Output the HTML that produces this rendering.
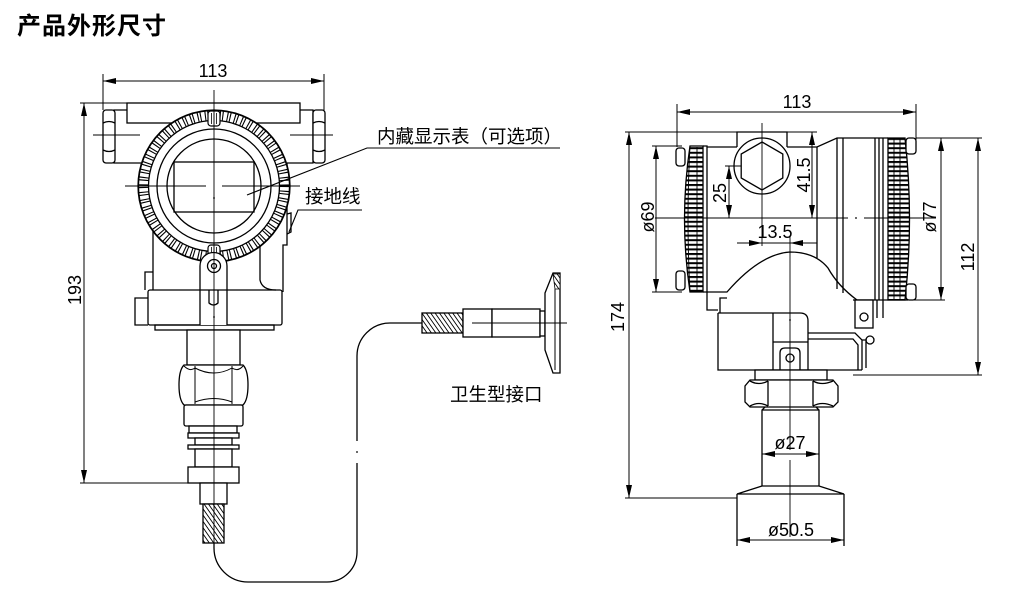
<!DOCTYPE html>
<html><head><meta charset="utf-8">
<style>
html,body{margin:0;padding:0;background:#fff;}
svg{display:block;}
</style></head><body>
<svg width="1017" height="593" viewBox="0 0 1017 593" xmlns="http://www.w3.org/2000/svg">
<defs>
<pattern id="hatch" patternUnits="userSpaceOnUse" width="3.6" height="3.6" patternTransform="rotate(-35)">
<rect width="3.6" height="3.6" fill="#fff"/><line x1="0" y1="0" x2="0" y2="3.6" stroke="#000" stroke-width="1.8"/>
</pattern>
<pattern id="knurl" patternUnits="userSpaceOnUse" width="30" height="4.6">
<rect width="30" height="4.6" fill="#fff"/><rect x="0" y="0" width="30" height="2" fill="#000"/>
</pattern>
</defs>
<rect width="1017" height="593" fill="#fff"/>

<!-- Title -->
<text x="17" y="34" font-family="'Liberation Sans','Noto Sans CJK SC',sans-serif" font-size="24" font-weight="bold" letter-spacing="1">产品外形尺寸</text>

<!-- ================= LEFT VIEW ================= -->
<g fill="none" stroke="#000" stroke-width="1.3">
  <rect x="127" y="103" width="173" height="20"/>
  <path d="M127,110 H114 V163 H152 M300,110 H313 V163 H287"/>
  <rect x="103" y="110" width="12" height="53" rx="3" fill="#fff"/>
  <path d="M103,123 Q109,120 115,123 M103,150 Q109,153 115,150"/>
  <rect x="313" y="110" width="12" height="53" rx="3" fill="#fff"/>
  <path d="M313,123 Q319,120 325,123 M313,150 Q319,153 325,150"/>
  <path d="M153,163 V290 M287,163 V245 H283 V292"/>
  <path d="M260,240 V280 Q262,290 276,290"/>
  <path d="M287,214 L291,213 V232 L287,234"/>
  <path d="M153,272 H145 V290"/>
  <path d="M148,298 H135 V325 H148"/>
  <rect x="148" y="290" width="134" height="35" rx="2"/>
  <rect x="155" y="325" width="119" height="5"/>
</g>

<g fill="none" stroke="#000">
  <circle cx="214" cy="186" r="76" fill="#fff" stroke-width="1.3"/>
  <circle cx="214" cy="186" r="70.5" stroke-width="10" stroke-dasharray="1.1 3.6 1.1 1.6"/>
  <circle cx="214" cy="186" r="75.5" stroke-width="1.2" fill="none"/>
  <circle cx="214" cy="186" r="65.5" stroke-width="1.3" fill="#fff"/>
  <circle cx="214" cy="186" r="57" stroke-width="1.3"/>
  <circle cx="214" cy="186" r="47" stroke-width="1.3"/>
  <rect x="174" y="162" width="80" height="50" stroke-width="1.3"/>
</g>
<g fill="#fff" stroke="#000" stroke-width="1.2">
  <rect x="208" y="111" width="12" height="15" rx="3"/>
  <rect x="208" y="245" width="12" height="16" rx="3"/>
</g>
<path d="M211.5,113 V124 M214,113 V124 M216.5,113 V124 M211.5,247 V259 M214,247 V259 M216.5,247 V259" stroke="#000" stroke-width="0.8"/>

<g fill="none" stroke="#000" stroke-width="1.3">
  <path d="M200,325 V266 A13.5,13.5 0 0 1 227,266 V325" fill="#fff"/>
  <circle cx="214" cy="266" r="6.5"/>
  <circle cx="214" cy="266" r="2.5"/>
  <path d="M209,290 V303 Q213.5,307 218,303 V290"/>
  <line x1="200" y1="290" x2="227" y2="290"/>
</g>
<circle cx="214" cy="317" r="0.9" fill="#000"/>

<g fill="#fff" stroke="#000" stroke-width="1.3">
  <rect x="187" y="330" width="53" height="35"/>
  <path d="M184,365 H243 Q248,370 248,385 Q248,400 243,405 H184 Q179,400 179,385 Q179,370 184,365 Z"/>
  <rect x="184" y="405" width="59" height="21" rx="2"/>
  <rect x="189" y="426" width="48" height="7"/>
  <rect x="188" y="433" width="51" height="5"/>
  <rect x="195" y="438" width="37" height="7"/>
  <rect x="188" y="445" width="51" height="4"/>
  <rect x="195" y="449" width="37" height="18"/>
  <rect x="188" y="467" width="51" height="16"/>
  <rect x="200" y="483" width="27" height="21"/>
  <rect x="203" y="504" width="21" height="39" fill="url(#hatch)"/>
</g>
<path d="M195,366 V404 M232,366 V404 M195,368 Q214,378 232,368 M195,402 Q214,395 232,402 M184,366 Q190,372 195,368 M232,368 Q238,372 243,366" fill="none" stroke="#000" stroke-width="1"/>

<g stroke="#000" stroke-width="0.9" fill="none">
  <line x1="214" y1="90" x2="214" y2="545"/>
  <line x1="125" y1="186" x2="206" y2="186"/>
  <line x1="222" y1="186" x2="300" y2="186"/>
  <line x1="93" y1="135" x2="140" y2="135"/>
  <line x1="290" y1="135" x2="333" y2="135"/>
</g>
<circle cx="214" cy="198" r="0.9" fill="#000"/>

<path d="M214,543 V548 A34,34 0 0 0 248,582 H327 A30,30 0 0 0 357,552 V463 M357,441 V356 A33,33 0 0 1 390,323 H422" fill="none" stroke="#000" stroke-width="1.3"/>
<circle cx="357" cy="452" r="0.9" fill="#000"/>

<g fill="#fff" stroke="#000" stroke-width="1.3">
  <rect x="422" y="313" width="41" height="20" fill="url(#hatch)"/>
  <rect x="463" y="309" width="29" height="28"/>
  <rect x="492" y="309" width="48" height="28"/>
  <rect x="540" y="311" width="5" height="25"/>
  <path d="M545,293 L553,273 H560 V373 H553 L545,350 Z"/>
</g>
<path d="M553,274 L560,274 L560,289 L555,289 Z" fill="url(#hatch)" stroke="#000" stroke-width="0.8"/>
<path d="M555,289 V370" stroke="#000" stroke-width="1"/>
<line x1="472" y1="323" x2="567" y2="323" stroke="#000" stroke-width="0.9"/>

<g stroke="#000" stroke-width="1.1" fill="none">
  <path d="M247,195 L367,148 H560"/>
  <path d="M289,232 L298,210 H362"/>
</g>
<g font-family="'Liberation Sans','Noto Sans CJK SC',sans-serif" font-size="18.5" fill="#000">
  <text x="377" y="143">内藏显示表（可选项）</text>
  <text x="305" y="203">接地线</text>
  <text x="450" y="401">卫生型接口</text>
</g>

<g stroke="#000" stroke-width="1" fill="none">
  <line x1="103" y1="81" x2="324" y2="81"/>
  <line x1="103" y1="74" x2="103" y2="110"/>
  <line x1="324" y1="74" x2="324" y2="110"/>
  <line x1="84" y1="103" x2="84" y2="483"/>
  <line x1="80" y1="103" x2="127" y2="103"/>
  <line x1="80" y1="483" x2="188" y2="483"/>
</g>
<g fill="#000">
  <polygon points="103,81 116,78 116,84"/>
  <polygon points="324,81 311,78 311,84"/>
  <polygon points="84,103 81,116 87,116"/>
  <polygon points="84,483 81,470 87,470"/>
</g>
<g font-family="'Liberation Sans',sans-serif" font-size="18" fill="#000" text-anchor="middle">
  <text x="213" y="77">113</text>
  <text transform="translate(81,290) rotate(-90)">193</text>
</g>

<!-- ================= RIGHT VIEW ================= -->
<g fill="none" stroke="#000" stroke-width="1.3">
  <path d="M690,146 Q679,219 690,292 L703,292 L703,146 Z" fill="url(#knurl)"/>
  <path d="M690,146 Q686,219 690,292" stroke-width="0.9"/>
  <path d="M697,147 V291" stroke-width="0.9"/>
  <path d="M703,146 H707 V292 H703"/>
  <rect x="676" y="148" width="9" height="18" rx="3" fill="#fff"/>
  <rect x="676" y="271" width="9" height="19" rx="3" fill="#fff"/>
  <path d="M707,147 H737 M787,147 H817 L837,138 H888"/>
  <path d="M737,147 V132 H787 V147"/>
  <path d="M817,147 V258"/>
  <path d="M837,138 V289 M843,138 V293 M875,138 V300 M879,138 V300 M883,138 V300"/>
  <path d="M853,300 H908"/>
  <path d="M888,138 L905,138 Q914,219 905,300 L888,300 Z" fill="url(#knurl)"/>
  <path d="M894,139 V299 M900,139 V299" stroke-width="0.9"/>
  <rect x="906" y="138" width="10" height="16" rx="3" fill="#fff"/>
  <rect x="906" y="284" width="10" height="16" rx="3" fill="#fff"/>
  <circle cx="762" cy="166" r="28" fill="#fff"/>
  <polygon points="762,142 782.8,154 782.8,178 762,190 741.2,178 741.2,154"/>
  <path d="M707,292 H727 Q760,254 790,252 Q815,252 828,268 Q838,286 857,300"/>
  <path d="M707,292 V310 H718 M720,313 V298 H727"/>
  <path d="M718,313 H800 Q808,313 808,321 V370 M718,313 V370 H862"/>
  <path d="M773,313 V370 M773,342 H808"/>
  <path d="M780,370 V353 Q780,348 785,348 H795 Q800,348 800,353 V370"/>
  <circle cx="790" cy="358" r="4"/>
  <path d="M808,333 H855 L862,340 V370 M808,339 H853 L858,345 V370 M862,340 H866 V368"/>
  <rect x="855" y="300" width="18" height="28" fill="#fff"/>
  <circle cx="864" cy="317" r="4"/>
  <circle cx="870" cy="340" r="4"/>
  <path d="M877,300 V318 M883,300 V318"/>
  <rect x="755" y="370" width="72" height="10" fill="#fff"/>
  <path d="M750,380 H833 L838,386 V402 L833,407 H750 L745,402 V386 Z" fill="#fff"/>
  <path d="M768,381 V406 M813,381 V406 M750,381 Q759,386 768,381 M813,381 Q822,386 833,381 M750,406 Q759,401 768,406 M813,406 Q822,401 833,406"/>
  <path d="M765,407 L762,410 V486 M816,407 L819,410 V486 M762,410 H819"/>
  <path d="M762,486 L737,494 H844 L819,486 Z"/>
  <path d="M737,494 V546 M844,494 V546"/>
</g>

<g stroke="#000" stroke-width="0.9" fill="none">
  <line x1="655" y1="218" x2="848" y2="218"/>
  <line x1="864" y1="218" x2="936" y2="218"/>
  <line x1="762" y1="123" x2="762" y2="246"/>
  <line x1="790" y1="237" x2="790" y2="450"/>
  <line x1="790" y1="460" x2="790" y2="537"/>
</g>
<circle cx="856" cy="218" r="0.9" fill="#000"/>
<circle cx="790" cy="320" r="0.9" fill="#000"/>

<g stroke="#000" stroke-width="1" fill="none">
  <line x1="677" y1="112" x2="916" y2="112"/>
  <line x1="677" y1="104" x2="677" y2="147"/>
  <line x1="916" y1="104" x2="916" y2="142"/>
  <line x1="629" y1="132" x2="629" y2="498"/>
  <line x1="625" y1="132" x2="817" y2="132"/>
  <line x1="625" y1="498" x2="737" y2="498"/>
  <line x1="656" y1="146" x2="656" y2="292"/>
  <line x1="652" y1="146" x2="682" y2="146"/>
  <line x1="652" y1="292" x2="682" y2="292"/>
  <line x1="729" y1="166" x2="729" y2="218"/>
  <line x1="725" y1="166" x2="741" y2="166"/>
  <line x1="812" y1="132" x2="812" y2="218"/>
  <line x1="737" y1="243" x2="817" y2="243"/>
  <line x1="941" y1="138" x2="941" y2="300"/>
  <line x1="916" y1="138" x2="982" y2="138"/>
  <line x1="908" y1="300" x2="945" y2="300"/>
  <line x1="978" y1="138" x2="978" y2="375"/>
  <line x1="853" y1="375" x2="982" y2="375"/>
  <line x1="762" y1="454" x2="819" y2="454"/>
  <line x1="737" y1="540" x2="844" y2="540"/>
</g>
<g fill="#000">
  <polygon points="677,112 690,109 690,115"/>
  <polygon points="916,112 903,109 903,115"/>
  <polygon points="629,132 626,145 632,145"/>
  <polygon points="629,498 626,485 632,485"/>
  <polygon points="656,146 653,159 659,159"/>
  <polygon points="656,292 653,279 659,279"/>
  <polygon points="729,166 726,179 732,179"/>
  <polygon points="729,218 726,205 732,205"/>
  <polygon points="812,132 809,145 815,145"/>
  <polygon points="812,218 809,205 815,205"/>
  <polygon points="762,243 749,240 749,246"/>
  <polygon points="790,243 803,240 803,246"/>
  <polygon points="941,138 938,151 944,151"/>
  <polygon points="941,300 938,287 944,287"/>
  <polygon points="978,138 975,151 981,151"/>
  <polygon points="978,375 975,362 981,362"/>
  <polygon points="762,454 775,451 775,457"/>
  <polygon points="819,454 806,451 806,457"/>
  <polygon points="737,540 750,537 750,543"/>
  <polygon points="844,540 831,537 831,543"/>
</g>
<g font-family="'Liberation Sans',sans-serif" font-size="18" fill="#000" text-anchor="middle">
  <text x="797" y="108">113</text>
  <text transform="translate(624,317) rotate(-90)">174</text>
  <text transform="translate(654,217) rotate(-90)">ø69</text>
  <text transform="translate(726,193) rotate(-90)">25</text>
  <text transform="translate(810,175) rotate(-90)">41.5</text>
  <text x="775" y="238">13.5</text>
  <text transform="translate(936,217) rotate(-90)">ø77</text>
  <text transform="translate(974,257) rotate(-90)">112</text>
  <text x="790" y="449">ø27</text>
  <text x="791" y="536">ø50.5</text>
</g>
</svg>
</body></html>
